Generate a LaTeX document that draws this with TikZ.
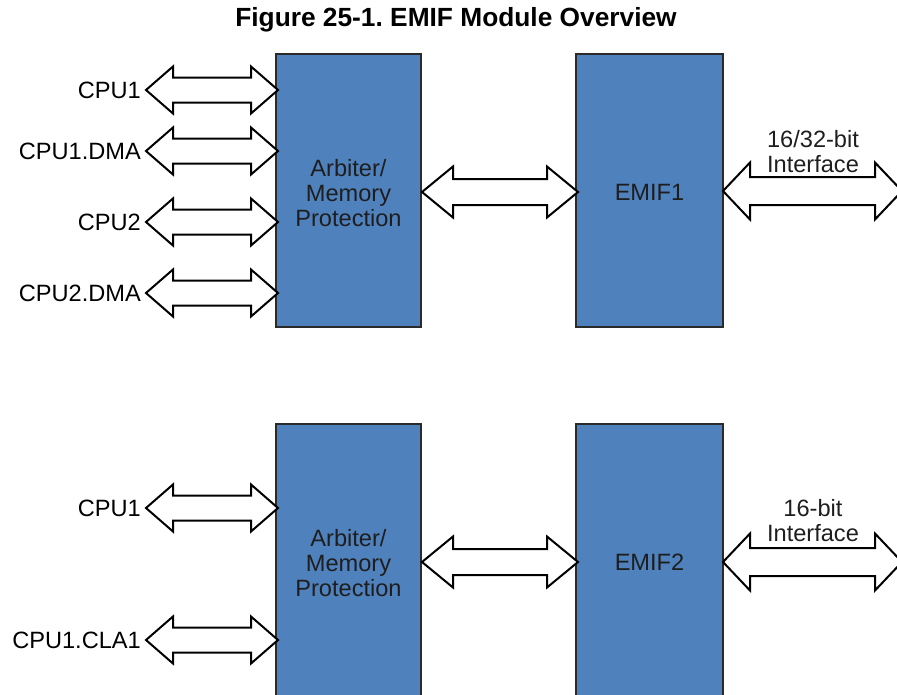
\documentclass[tikz,border=0pt]{standalone}
\usepackage{fontspec}
\setmainfont{Liberation Sans}
\definecolor{boxblue}{HTML}{4F81BD}
\definecolor{boxline}{HTML}{2A2A2A}
\definecolor{boxtext}{HTML}{1E1E1E}
\newcommand{\barrow}[6]{% xl xr y halfhead halfbody headlen
  \draw[arrowshape] (#1,#3) -- (#1+#6,#3-#4) -- (#1+#6,#3-#5) -- (#2-#6,#3-#5) -- (#2-#6,#3-#4)
    -- (#2,#3) -- (#2-#6,#3+#4) -- (#2-#6,#3+#5) -- (#1+#6,#3+#5) -- (#1+#6,#3+#4) -- cycle;}
\begin{document}
\frenchspacing
\begin{tikzpicture}[x=1pt,y=-1pt,
  arrowshape/.style={draw=black,fill=white,line width=2pt,line join=miter},
  block/.style={draw=boxline,fill=boxblue,line width=2.5pt,text=boxtext},
  lbl/.style={inner sep=0pt,font=\fontsize{23.6}{25}\selectfont},
  btxt/.style={inner sep=0pt,align=center,text=boxtext,font=\fontsize{23.6}{25}\selectfont}]
\useasboundingbox (0,0) rectangle (897,694);
\clip (0,0) rectangle (897,694);
\node[inner sep=0pt,font=\bfseries\fontsize{26.3}{28}\selectfont] (title) at (456,20) {Figure 25-1. EMIF Module Overview};
% top blocks
\draw[block] (276,54) rectangle (421,327);
\draw[block] (576,54) rectangle (723,327);
\node[btxt] (arb1) at (348.5,193) {Arbiter/\\Memory\\Protection};
\node[btxt] (emif1) at (649.5,192) {EMIF1};
% bottom blocks
\draw[block] (276,424) rectangle (421,710);
\draw[block] (576,424) rectangle (723,710);
\node[btxt] (arb2) at (348.5,563) {Arbiter/\\Memory\\Protection};
\node[btxt] (emif2) at (649.5,562) {EMIF2};
% left arrows top
\barrow{146}{278}{90}{23.5}{12.5}{27}
\barrow{146}{278}{151}{23.5}{12.5}{27}
\barrow{146}{278}{222}{23.5}{12.5}{27}
\barrow{146}{278}{293}{23.5}{12.5}{27}
\node[lbl,anchor=east] (c1) at (141,90) {CPU1};
\node[lbl,anchor=east] (c1d) at (141,151) {CPU1.DMA};
\node[lbl,anchor=east] (c2) at (141,222) {CPU2};
\node[lbl,anchor=east] (c2d) at (141,293) {CPU2.DMA};
% middle and right arrows top
\barrow{422}{578}{192}{25.5}{13}{31}
\barrow{723}{902}{191}{28.5}{14}{27}
\node[btxt] (if1) at (813,152) {16/32-bit\\Interface};
% bottom arrows
\barrow{146}{278}{508}{23.5}{12.5}{27}
\barrow{146}{278}{640}{23.5}{12.5}{27}
\node[lbl,anchor=east] (b1) at (141,508) {CPU1};
\node[lbl,anchor=east] (b2) at (141,640) {CPU1.CLA1};
\barrow{422}{578}{562}{25.5}{13}{31}
\barrow{723}{902}{562}{28.5}{14}{27}
\node[btxt] (if2) at (813,521) {16-bit\\Interface};
\end{tikzpicture}
\end{document}
